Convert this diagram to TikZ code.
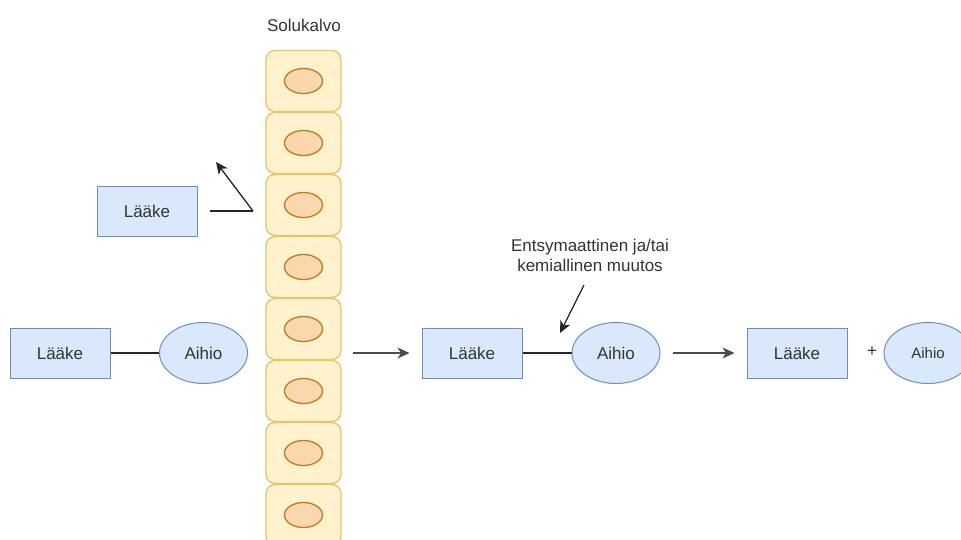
\documentclass[tikz,border=0pt]{standalone}
\usepackage{fontspec}
\setmainfont{Liberation Sans}
\usetikzlibrary{arrows.meta,shapes.geometric}
\definecolor{boxfill}{HTML}{DAE8FC}
\definecolor{boxline}{HTML}{6C8EBF}
\definecolor{cellfill}{HTML}{FFF2CC}
\definecolor{cellline}{HTML}{E3C66F}
\definecolor{nucfill}{HTML}{FAD7AC}
\definecolor{nucline}{HTML}{C07A20}
\definecolor{txt}{HTML}{333333}
\tikzset{
  lbl/.style={font=\fontsize{17}{20}\selectfont, text=txt},
  drug/.style={lbl, draw=boxline, fill=boxfill, line width=1pt,
    minimum width=100pt, minimum height=50pt, inner sep=0pt},
  carrier/.style={lbl, draw=boxline, fill=boxfill, line width=1pt,
    ellipse, minimum width=88pt, minimum height=61pt, inner sep=0pt},
  cell/.style={draw=cellline, fill=cellfill, line width=1.4pt,
    rounded corners=9pt, minimum width=75pt, minimum height=61pt, inner sep=0pt},
  nucleus/.style={draw=nucline, fill=nucfill, line width=1.3pt,
    ellipse, minimum width=38pt, minimum height=25pt, inner sep=0pt},
  link/.style={line width=1.3pt, black!85},
  flow/.style={line width=1.3pt, black!70, -{Stealth[length=12pt,width=11pt,inset=3.5pt]}},
}
\begin{document}
\begin{tikzpicture}[x=1pt,y=-1pt]
\useasboundingbox (0,0) rectangle (961,539);
\clip (0,0) rectangle (961,539);

% cell membrane: a column of cells with nuclei
\node[lbl] (membrane) at (304,25) {Solukalvo};
\foreach \i in {0,...,7}{
  \node[cell] (cell\i) at (303.5,{81+62*\i}) {};
  \node[nucleus] (nuc\i) at (303.5,{81+62*\i}) {};
}

% drug alone is turned back by the membrane
\node[drug] (drugtop) at (147,211) {Lääke};
\coordinate (bounce) at (253,211);
\coordinate (away) at (216,162);
\draw[link] ([xshift=12pt]drugtop.east) -- (bounce);
\draw[flow, black!85] (bounce) -- (away);

% prodrug before the membrane
\node[drug] (drugA) at (60,353) {Lääke};
\node[carrier] (carA) at (203.5,353) {Aihio};
\draw[link] (drugA.east) -- (carA.west);

% prodrug after crossing
\coordinate (crossS) at (353,353);
\node[drug] (drugB) at (472,353) {Lääke};
\node[carrier] (carB) at (616,353) {Aihio};
\draw[flow] (crossS) -- ([xshift=-12pt]drugB.west);
\draw[link] (drugB.east) -- (carB.west);

% activation step
\node[lbl, align=center] (change) at (590,255) {Entsymaattinen ja/tai\\kemiallinen muutos};
\coordinate (chS) at (584,285);
\coordinate (chE) at (560,333);
\draw[flow, black!85] (chS) -- (chE);

% released drug and carrier
\node[drug] (drugC) at (797,353) {Lääke};
\node[carrier, font=\fontsize{15}{18}\selectfont] (carC) at (928,353) {Aihio};
\node[lbl] (plus) at (872,352) {+};
\draw[flow] ([xshift=12pt]carB.east) -- ([xshift=-12pt]drugC.west);
\end{tikzpicture}
\end{document}
